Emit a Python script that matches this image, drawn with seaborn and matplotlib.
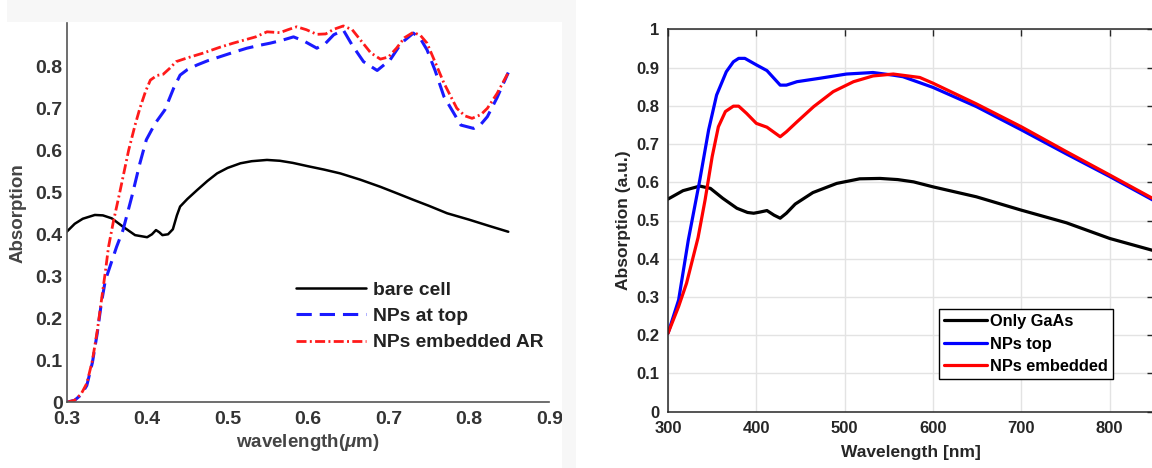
import matplotlib
matplotlib.use("Agg")
import matplotlib.pyplot as plt
from matplotlib.patches import Rectangle
import seaborn as sns
import pandas as pd

# ---------------- Left panel data (wavelength in um) ----------------
bare_x = [0.300, 0.310, 0.320, 0.335, 0.345, 0.356, 0.370, 0.385, 0.400, 0.406,
          0.411, 0.415, 0.419, 0.426, 0.432, 0.437, 0.441, 0.450, 0.462, 0.475,
          0.487, 0.500, 0.516, 0.530, 0.549, 0.565, 0.581, 0.600, 0.620, 0.640,
          0.665, 0.690, 0.710, 0.731, 0.750, 0.773, 0.800, 0.825, 0.849]
bare_y = [0.406, 0.425, 0.437, 0.446, 0.445, 0.438, 0.418, 0.398, 0.393, 0.400,
          0.410, 0.405, 0.398, 0.400, 0.412, 0.445, 0.466, 0.484, 0.505, 0.527,
          0.545, 0.558, 0.569, 0.574, 0.577, 0.575, 0.570, 0.562, 0.554, 0.545,
          0.530, 0.513, 0.498, 0.482, 0.468, 0.450, 0.435, 0.420, 0.406]

top_x = [0.300, 0.310, 0.318, 0.325, 0.332, 0.338, 0.343, 0.348, 0.355, 0.362,
         0.370, 0.381, 0.391, 0.399, 0.410, 0.422, 0.433, 0.441, 0.450, 0.462,
         0.475, 0.491, 0.507, 0.524, 0.540, 0.553, 0.568, 0.582, 0.595, 0.611,
         0.622, 0.632, 0.644, 0.655, 0.669, 0.686, 0.702, 0.716, 0.731, 0.740,
         0.748, 0.758, 0.769, 0.790, 0.806, 0.815, 0.823, 0.835, 0.849]
top_y = [0.000, 0.005, 0.018, 0.040, 0.095, 0.165, 0.235, 0.290, 0.330, 0.370,
         0.410, 0.490, 0.569, 0.625, 0.664, 0.696, 0.748, 0.779, 0.792, 0.803,
         0.813, 0.823, 0.833, 0.843, 0.850, 0.855, 0.862, 0.870, 0.860, 0.843,
         0.855, 0.875, 0.886, 0.850, 0.811, 0.790, 0.815, 0.855, 0.879, 0.865,
         0.839, 0.790, 0.728, 0.660, 0.652, 0.662, 0.680, 0.725, 0.785]

emb_x = [0.300, 0.310, 0.318, 0.325, 0.332, 0.338, 0.343, 0.348, 0.352, 0.358,
         0.366, 0.377, 0.385, 0.391, 0.398, 0.404, 0.412, 0.420, 0.428, 0.436,
         0.450, 0.469, 0.490, 0.507, 0.520, 0.535, 0.549, 0.565, 0.575, 0.586,
         0.598, 0.611, 0.622, 0.632, 0.644, 0.655, 0.665, 0.678, 0.690, 0.700,
         0.710, 0.720, 0.731, 0.740, 0.748, 0.758, 0.769, 0.785, 0.795, 0.804,
         0.815, 0.823, 0.835, 0.849]
emb_y = [0.000, 0.005, 0.020, 0.045, 0.100, 0.170, 0.240, 0.310, 0.370, 0.430,
         0.500, 0.600, 0.660, 0.700, 0.740, 0.767, 0.778, 0.781, 0.795, 0.811,
         0.820, 0.831, 0.845, 0.855, 0.862, 0.870, 0.882, 0.880, 0.887, 0.894,
         0.887, 0.876, 0.877, 0.888, 0.896, 0.887, 0.863, 0.832, 0.817, 0.822,
         0.843, 0.868, 0.881, 0.873, 0.855, 0.810, 0.760, 0.700, 0.682, 0.676,
         0.685, 0.700, 0.735, 0.785]

left_labels = ["bare cell", "NPs at top", "NPs embedded AR"]
left_xticks = [0.3, 0.4, 0.5, 0.6, 0.7, 0.8, 0.9]
left_xticklabels = ["0.3", "0.4", "0.5", "0.6", "0.7", "0.8", "0.9"]
left_yticks = [0, 0.1, 0.2, 0.3, 0.4, 0.5, 0.6, 0.7, 0.8]
left_yticklabels = ["0", "0.1", "0.2", "0.3", "0.4", "0.5", "0.6", "0.7", "0.8"]

# ---------------- Right panel data (wavelength in nm) ----------------
gaas_x = [300, 317, 336, 348, 362, 378, 390, 397, 404, 412, 420, 427, 434, 444,
          464, 491, 517, 540, 560, 578, 600, 649, 700, 751, 800, 850]
gaas_y = [0.556, 0.578, 0.590, 0.584, 0.558, 0.532, 0.521, 0.519, 0.522, 0.526,
          0.514, 0.506, 0.519, 0.543, 0.573, 0.597, 0.609, 0.610, 0.607, 0.601,
          0.588, 0.562, 0.527, 0.494, 0.453, 0.421]

npstop_x = [300, 312, 323, 336, 346, 355, 366, 374, 380, 387, 400, 412, 427, 434,
            446, 472, 502, 532, 555, 566, 600, 649, 700, 751, 800, 850]
npstop_y = [0.205, 0.292, 0.449, 0.606, 0.737, 0.828, 0.889, 0.915, 0.924, 0.924,
            0.907, 0.892, 0.854, 0.854, 0.863, 0.872, 0.883, 0.887, 0.880, 0.876,
            0.848, 0.798, 0.737, 0.674, 0.615, 0.552]

npsemb_x = [300, 312, 321, 334, 342, 350, 357, 365, 374, 380, 389, 400, 412, 427,
            434, 446, 465, 487, 510, 532, 555, 585, 600, 649, 700, 751, 800, 850]
npsemb_y = [0.205, 0.275, 0.336, 0.455, 0.554, 0.667, 0.745, 0.785, 0.799, 0.799,
            0.780, 0.754, 0.744, 0.719, 0.732, 0.758, 0.798, 0.837, 0.863, 0.878,
            0.883, 0.874, 0.859, 0.805, 0.745, 0.680, 0.619, 0.556]

right_labels = ["Only GaAs", "NPs top", "NPs embedded"]
right_xticks = [300, 400, 500, 600, 700, 800]
right_xticklabels = ["300", "400", "500", "600", "700", "800"]
right_yticks = [0, 0.1, 0.2, 0.3, 0.4, 0.5, 0.6, 0.7, 0.8, 0.9, 1.0]
right_yticklabels = ["0", "0.1", "0.2", "0.3", "0.4", "0.5", "0.6", "0.7", "0.8", "0.9", "1"]

# ---------------- Style ----------------
sns.set_style("white")
plt.rcParams["font.family"] = ["Liberation Sans", "DejaVu Sans"]
plt.rcParams["mathtext.fontset"] = "custom"
plt.rcParams["mathtext.it"] = "Liberation Sans:italic:bold"
plt.rcParams["mathtext.rm"] = "Liberation Sans:bold"

W, H = 1152, 468
fig = plt.figure(figsize=(W / 100, H / 100), dpi=100)
fig.patch.set_facecolor("white")

# light grey margins of the left (scanned) figure
fig.patches.append(Rectangle((7 / W, 1 - 22 / H), (576 - 7) / W, 22 / H,
                             transform=fig.transFigure, facecolor="#f7f7f7",
                             edgecolor="none", zorder=0))
fig.patches.append(Rectangle((562 / W, 0), 14 / W, 1 - 22 / H,
                             transform=fig.transFigure, facecolor="#f7f7f7",
                             edgecolor="none", zorder=0))

# ---------------- Left axes ----------------
axL = fig.add_axes([66.7 / W, 1 - 402.3 / H, 482.6 / W, 379.3 / H])
axL.patch.set_alpha(0)
lc = "#333333"
sns.lineplot(x=bare_x, y=bare_y, ax=axL, color="black", lw=1.8,
             label=left_labels[0], sort=False)
sns.lineplot(x=top_x, y=top_y, ax=axL, color="#1a1aff", lw=2.2,
             linestyle=(0, (5, 2.6)), label=left_labels[1], sort=False)
sns.lineplot(x=emb_x, y=emb_y, ax=axL, color="#ff1a1a", lw=2.0,
             linestyle=(0, (3.6, 1.2, 0.7, 1.2)), label=left_labels[2], sort=False)
axL.set_xlim(0.3, 0.9)
axL.set_ylim(0, 0.903)
axL.set_xticks(left_xticks, left_xticklabels)
axL.set_yticks(left_yticks, left_yticklabels)
for s in ["top", "right"]:
    axL.spines[s].set_visible(False)
for s in ["left", "bottom"]:
    axL.spines[s].set_color("#555555")
    axL.spines[s].set_linewidth(1.2)
axL.tick_params(direction="in", length=4, width=1.1, color="#555555",
                labelsize=14, labelcolor=lc)
axL.tick_params(axis="y", pad=3)
axL.tick_params(axis="x", pad=6)
for t in axL.get_xticklabels() + axL.get_yticklabels():
    t.set_fontweight("bold")
axL.set_xlabel(r"wavelength($\mu$m)", fontsize=13.5, fontweight="bold",
               color="#444444", va="center")
axL.set_ylabel("Absorption", fontsize=13.5, fontweight="bold",
               color="#444444", va="center")
axL.xaxis.set_label_coords(0.5, -0.106)
axL.yaxis.set_label_coords(-0.100, 0.5)
axL.grid(False)
legL = axL.legend(loc="upper left", bbox_to_anchor=(296 / W, 1 - 281 / H),
                  bbox_transform=fig.transFigure, frameon=False, borderpad=0,
                  borderaxespad=0, handlelength=3.6, handletextpad=0.4,
                  labelspacing=0.46, prop={"size": 13.9, "weight": "bold"})
for t in legL.get_texts():
    t.set_color("#222222")

# ---------------- Right axes ----------------
axR = fig.add_axes([668 / W, 1 - 411.7 / H, 485.9 / W, 382.4 / H])
rc = "#262626"
sns.lineplot(x=gaas_x, y=gaas_y, ax=axR, color="black", lw=2.3,
             label=right_labels[0], sort=False)
sns.lineplot(x=npstop_x, y=npstop_y, ax=axR, color="#0000ff", lw=2.3,
             label=right_labels[1], sort=False)
sns.lineplot(x=npsemb_x, y=npsemb_y, ax=axR, color="#ff0000", lw=2.3,
             label=right_labels[2], sort=False)
axR.set_xlim(300, 850)
axR.set_ylim(0, 1)
axR.set_xticks(right_xticks, right_xticklabels)
axR.set_yticks(right_yticks, right_yticklabels)
axR.grid(True, color="#e3e3e3", lw=1.0)
axR.set_axisbelow(True)
for s in axR.spines.values():
    s.set_visible(True)
    s.set_color(rc)
    s.set_linewidth(1.1)
axR.tick_params(direction="in", length=5, width=1.0, color=rc,
                top=True, right=True, labelsize=12, labelcolor=rc)
axR.tick_params(axis="x", pad=7)
axR.tick_params(axis="y", pad=6)
for t in axR.get_xticklabels() + axR.get_yticklabels():
    t.set_fontweight("bold")
axR.set_xlabel("Wavelength [nm]", fontsize=12.5, fontweight="bold",
               color=rc, va="center")
axR.set_ylabel("Absorption (a.u.)", fontsize=12.5, fontweight="bold",
               color=rc, va="center")
axR.xaxis.set_label_coords(0.5, -0.108)
axR.yaxis.set_label_coords(-0.091, 0.5)
legR = axR.legend(loc="upper left", bbox_to_anchor=(939.2 / W, 1 - 309.3 / H),
                  bbox_transform=fig.transFigure, frameon=True, fancybox=False,
                  framealpha=1, edgecolor="black", borderpad=0.3,
                  borderaxespad=0, handlelength=2.6, handletextpad=0.2,
                  labelspacing=0.45, prop={"size": 11.8, "weight": "bold"})
legR.get_frame().set_linewidth(1.0)
for t in legR.get_texts():
    t.set_color("black")

fig.savefig("out.png", dpi=100)
